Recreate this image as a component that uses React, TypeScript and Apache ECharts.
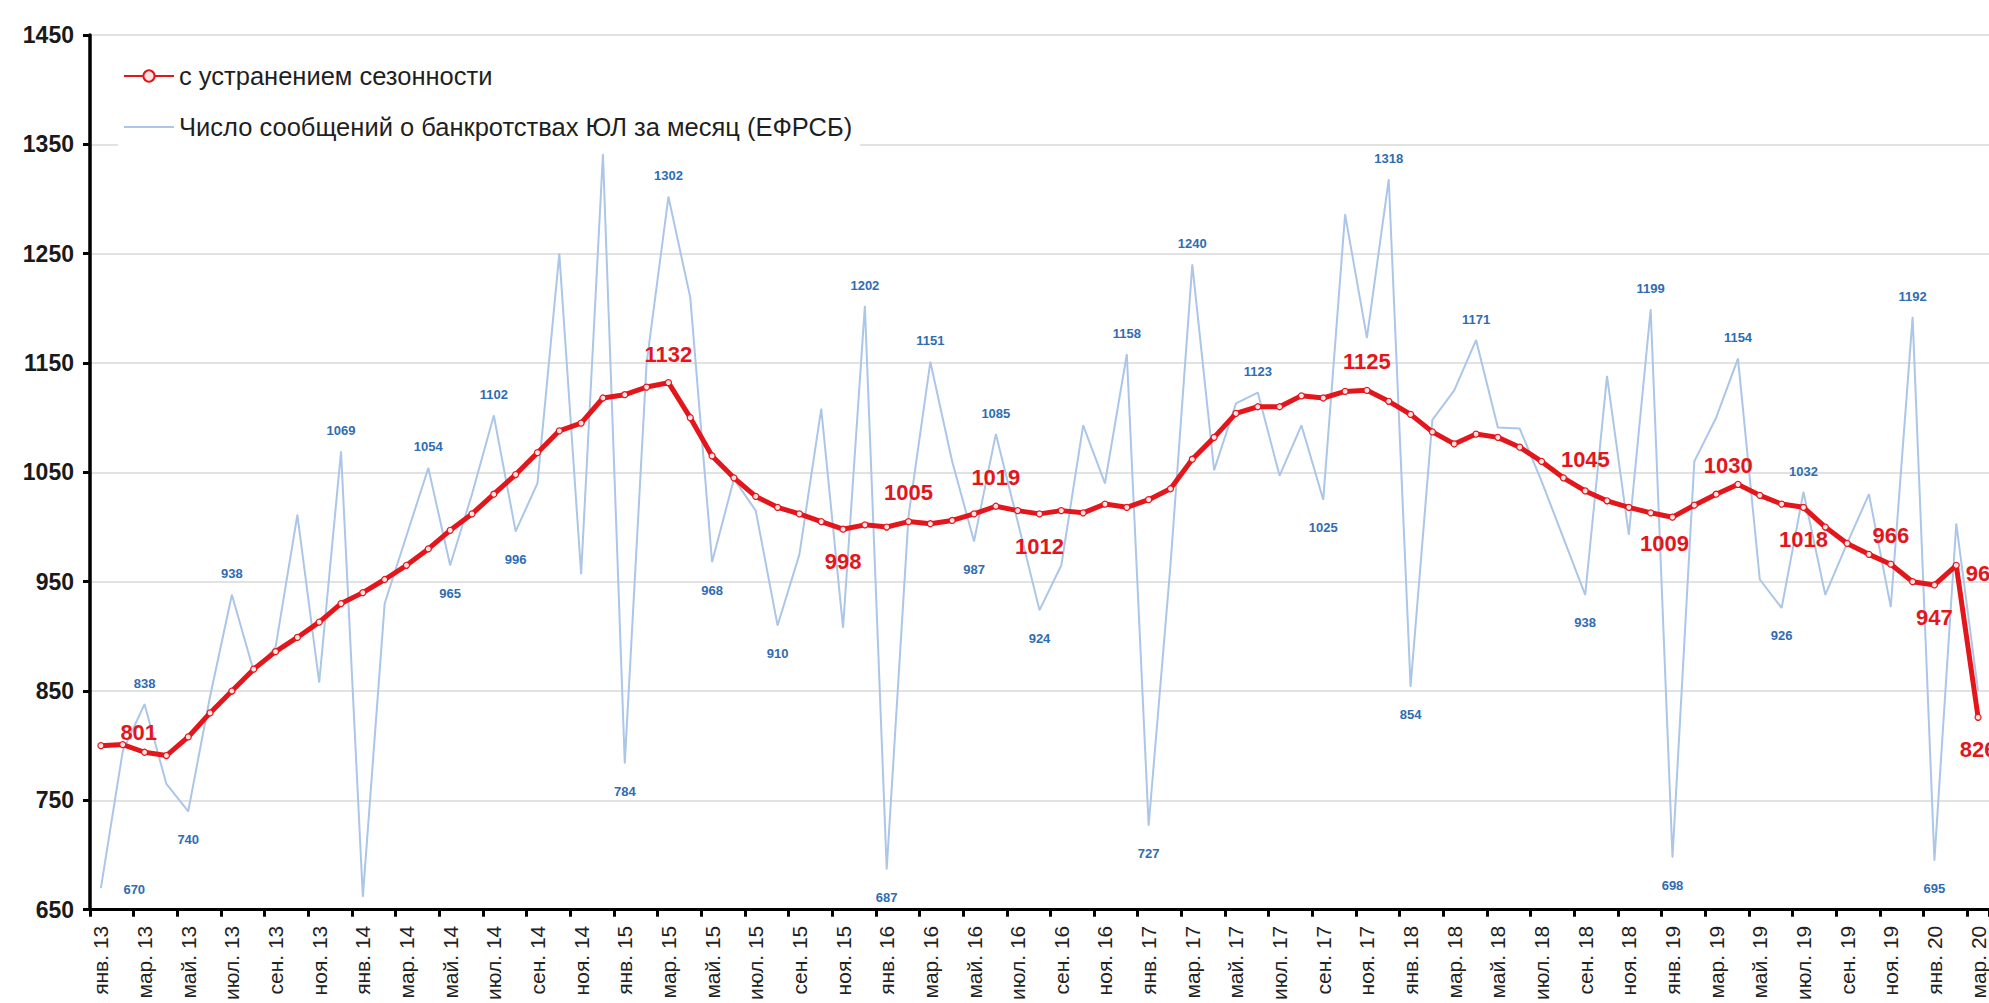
import React, { useEffect, useRef } from 'react';
import * as echarts from 'echarts';

const monthNames = ['янв.', 'фев.', 'мар.', 'апр.', 'май.', 'июн.', 'июл.', 'авг.', 'сен.', 'окт.', 'ноя.', 'дек.'];
const years = ['13', '14', '15', '16', '17', '18', '19', '20'];
const categories: string[] = [];
years.forEach((y) => monthNames.forEach((m) => categories.push(`${m} ${y}`)));
categories.length = 87; // янв. 13 … мар. 20

const seriesNames = ['с устранением сезонности', 'Число сообщений о банкротствах ЮЛ за месяц (ЕФРСБ)'];

// seasonally adjusted (red)
const seasonal = [
  800, 801, 794, 791, 808, 830, 850, 870, 886, 899, 913, 930,
  940, 952, 965, 980, 997, 1012, 1030, 1048, 1068, 1088, 1095, 1118,
  1121, 1128, 1132, 1100, 1065, 1045, 1028, 1018, 1012, 1005, 998, 1002,
  1000, 1005, 1003, 1006, 1012, 1019, 1015, 1012, 1015, 1013, 1021, 1018,
  1025, 1035, 1062, 1082, 1104, 1110, 1110, 1120, 1118, 1124, 1125, 1115,
  1103, 1087, 1076, 1085, 1082, 1073, 1060, 1045, 1033, 1024, 1018, 1013,
  1009, 1020, 1030, 1039, 1029, 1021, 1018, 1000, 985, 975, 966, 950,
  947, 965, 826,
];

// monthly count (blue)
const monthly = [
  670, 795, 838, 765, 740, 845, 938, 868, 890, 1011, 858, 1069,
  662, 930, 992, 1054, 965, 1030, 1102, 996, 1040, 1250, 957, 1341,
  784, 1150, 1302, 1210, 968, 1044, 1015, 910, 975, 1108, 908, 1202,
  687, 1010, 1151, 1060, 987, 1085, 1005, 924, 965, 1093, 1040, 1158,
  727, 965, 1240, 1052, 1113, 1123, 1047, 1093, 1025, 1286, 1173, 1318,
  854, 1098, 1125, 1171, 1091, 1090, 1042, 990, 938, 1138, 993, 1199,
  698, 1060, 1100, 1154, 952, 926, 1032, 938, 985, 1030, 927, 1192,
  695, 1003, 850,
];

// indices of labelled points
const seasonalLabelTop = [1, 26, 37, 41, 58, 67, 74, 82];
const seasonalLabelBottom = [34, 43, 72, 78, 84, 86];
const seasonalLabelRight = [85];
const monthlyLabelTop = [2, 6, 11, 15, 18, 26, 35, 38, 41, 47, 50, 53, 59, 63, 71, 75, 78, 83];
const monthlyLabelBottom = [4, 16, 19, 24, 28, 31, 36, 40, 43, 48, 56, 60, 68, 72, 77, 84];
const monthlyLabelRight = [0];

const yMin = 650;
const yMax = 1450;
const yStep = 100;

const FONT = '"Liberation Sans", Arial, sans-serif';
const RED = '#e3161c';
const BLUE_LINE = '#abc6e8';
const BLUE_TEXT = '#2f6db3';

const labelOffsets: Record<string, number[]> = {
  m0: [14, 2],
  s1: [16, 16],
  s67: [22, 10],
  s72: [-8, -6],
  s74: [12, 0],
  s85: [0, 8],
};

export default function App() {
  const ref = useRef<HTMLDivElement>(null);

  useEffect(() => {
    if (!ref.current) return;
    const chart = echarts.init(ref.current, undefined, { renderer: 'svg' });

    const redData = seasonal.map((v, i) => {
      let pos: string | null = null;
      if (seasonalLabelTop.includes(i)) pos = 'top';
      else if (seasonalLabelBottom.includes(i)) pos = 'bottom';
      else if (seasonalLabelRight.includes(i)) pos = 'right';
      if (!pos) return v;
      return {
        value: v,
        label: {
          show: true,
          position: pos,
          distance: pos === 'top' ? 14 : pos === 'right' ? 6 : 18,
          offset: labelOffsets['s' + i] || [0, 0],
          color: RED,
          fontSize: 22,
          fontWeight: 'bold',
          fontFamily: FONT,
        },
      };
    });

    const blueData = monthly.map((v, i) => {
      let pos: string | null = null;
      if (monthlyLabelTop.includes(i)) pos = 'top';
      else if (monthlyLabelBottom.includes(i)) pos = 'bottom';
      else if (monthlyLabelRight.includes(i)) pos = 'right';
      if (!pos) return v;
      return {
        value: v,
        label: {
          show: true,
          position: pos,
          distance: pos === 'top' ? 14 : pos === 'right' ? 8 : 21,
          offset: labelOffsets['m' + i] || [0, 0],
          color: BLUE_TEXT,
          fontSize: 13,
          fontWeight: 'bold',
          fontFamily: FONT,
        },
      };
    });

    chart.setOption({
      animation: false,
      backgroundColor: '#ffffff',
      textStyle: { fontFamily: FONT },
      grid: { left: 90, right: 0, top: 35, bottom: 86, containLabel: false },
      legend: {
        orient: 'vertical',
        left: 118,
        top: 57,
        itemWidth: 50,
        itemHeight: 14,
        itemGap: 25,
        backgroundColor: '#ffffff',
        padding: [6, 8, 6, 5],
        textStyle: { fontSize: 25.5, color: '#1f1f1f', fontFamily: FONT },
        data: [
          { name: seriesNames[0] },
          { name: seriesNames[1], itemStyle: { opacity: 0 } },
        ],
      },
      xAxis: {
        type: 'category',
        data: categories,
        boundaryGap: true,
        axisLine: { show: true, lineStyle: { color: '#000', width: 3 } },
        axisTick: { show: true, interval: 1, length: 7, lineStyle: { color: '#000', width: 3 } },
        axisLabel: {
          interval: 1,
          rotate: 90,
          margin: 16,
          fontSize: 21,
          color: '#222',
          fontFamily: FONT,
        },
        splitLine: { show: false },
      },
      yAxis: {
        type: 'value',
        min: yMin,
        max: yMax,
        interval: yStep,
        axisLine: { show: true, lineStyle: { color: '#000', width: 3.5 } },
        axisTick: { show: true, length: 7, lineStyle: { color: '#000', width: 3 } },
        axisLabel: {
          margin: 16,
          fontSize: 23,
          fontWeight: 'bold',
          color: '#1a1a1a',
          fontFamily: FONT,
          formatter: (v: number) => String(v),
        },
        splitLine: { show: true, lineStyle: { color: '#d9d9d9', width: 1.5 } },
      },
      series: [
        {
          name: seriesNames[1],
          type: 'line',
          data: blueData,
          color: BLUE_LINE,
          symbol: 'circle',
          symbolSize: 1,
          showSymbol: true,
          itemStyle: { color: BLUE_LINE },
          lineStyle: { color: BLUE_LINE, width: 2 },
          z: 2,
        },
        {
          name: seriesNames[0],
          type: 'line',
          data: redData,
          color: RED,
          symbol: 'circle',
          symbolSize: 6,
          showSymbol: true,
          itemStyle: { color: '#ffe3e3', borderColor: RED, borderWidth: 1.2 },
          lineStyle: { color: RED, width: 5 },
          z: 3,
        },
      ],
    });

    return () => chart.dispose();
  }, []);

  return (
    <div
      ref={ref}
      style={{ position: 'fixed', left: 0, top: 0, width: 1989, height: 1003, background: '#fff' }}
    />
  );
}
